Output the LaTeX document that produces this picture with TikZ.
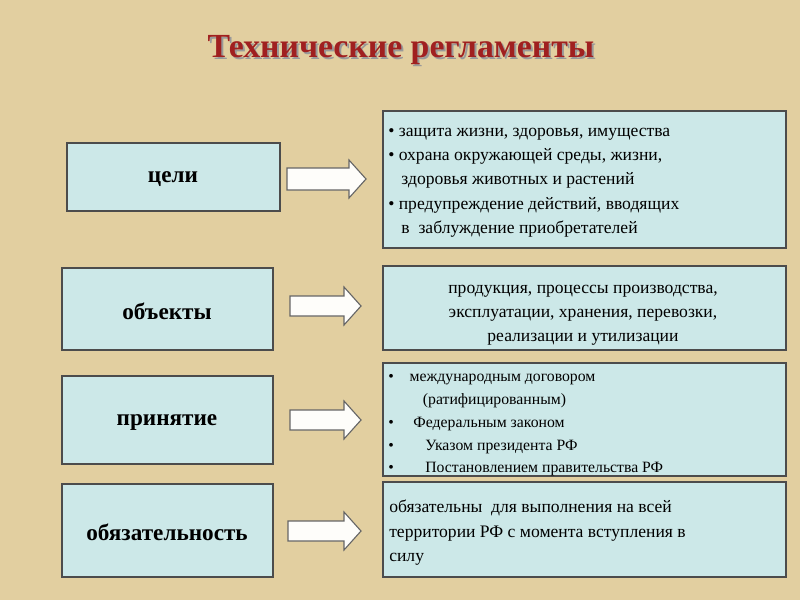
\documentclass[tikz,border=0pt]{standalone}
\usepackage{fontspec}
\setmainfont{Liberation Serif}
\definecolor{bg}{RGB}{226,207,160}
\definecolor{boxc}{RGB}{204,232,232}
\definecolor{ttl}{RGB}{160,32,32}
\tikzset{
 lbox/.style={draw=black!70,line width=0.8pt,fill=boxc},
 ltxt/.style={font=\fontsize{16.5}{18}\selectfont\bfseries},
 rbox/.style={draw=black!70,line width=0.8pt,fill=boxc},
 rtxt/.style={anchor=north west,align=left,font=\fontsize{12.5}{17.2}\selectfont,inner sep=0pt},
 barrow/.style={draw=black!60,fill=white!95!bg,line width=0.8pt}
}
\newcommand{\blockarrow}[4]{% x1 x2 ycenter halfbody
 \draw[barrow] (#1,#3-#4) -- (#2-17,#3-#4) -- (#2-17,#3-19) -- (#2,#3) -- (#2-17,#3+19) -- (#2-17,#3+#4) -- (#1,#3+#4) -- cycle;}
\begin{document}
\begin{tikzpicture}[x=0.025cm,y=-0.025cm]
\fill[bg] (0,0) rectangle (800,600);
\useasboundingbox (0,0) rectangle (800,600);
\node[text=black!40,font=\fontsize{24}{26}\selectfont\bfseries] at (403,52) {Технические регламенты};
\node[text=ttl,font=\fontsize{24}{26}\selectfont\bfseries] (title) at (401,50) {Технические регламенты};
% left boxes
\draw[lbox] (67,143) rectangle (280,211); \node[ltxt] (a1) at (173,179) {цели};
\draw[lbox] (62,268) rectangle (273,350); \node[ltxt] (a2) at (167,311) {объекты};
\draw[lbox] (62,376) rectangle (273,464); \node[ltxt] (a3) at (167,422) {принятие};
\draw[lbox] (62,484) rectangle (273,577); \node[ltxt] (a4) at (167,532) {обязательность};
% right boxes
\draw[rbox] (383,111) rectangle (786,248);
\node[rtxt] (b1) at (388,128) {• защита жизни, здоровья, имущества\\• охрана окружающей среды, жизни,\\\ \ \ здоровья животных и растений\\• предупреждение действий, вводящих\\\ \ \ в\ \ заблуждение приобретателей};
\draw[rbox] (383,266) rectangle (786,350);
\node[rtxt,align=center,anchor=north] (b2) at (583,285) {продукция, процессы производства,\\эксплуатации, хранения, перевозки,\\реализации и утилизации};
\draw[rbox] (383,363) rectangle (786,476);
\node[rtxt,font=\fontsize{11.2}{16.2}\selectfont] (b3) at (388,374) {•\quad международным договором\\\hspace{2.2em}(ратифицированным)\\•\quad\ Федеральным законом\\•\qquad Указом президента РФ\\•\qquad Постановлением правительства РФ};
\draw[rbox] (383,482) rectangle (786,577);
\node[rtxt] (b4) at (389,500) {обязательны\ \ для выполнения на всей\\территории РФ с момента вступления в\\силу};
% arrows
\blockarrow{287}{366}{179}{11}
\blockarrow{290}{361}{306}{10}
\blockarrow{290}{361}{420}{10}
\blockarrow{288}{361}{531}{10}
\end{tikzpicture}
\end{document}
